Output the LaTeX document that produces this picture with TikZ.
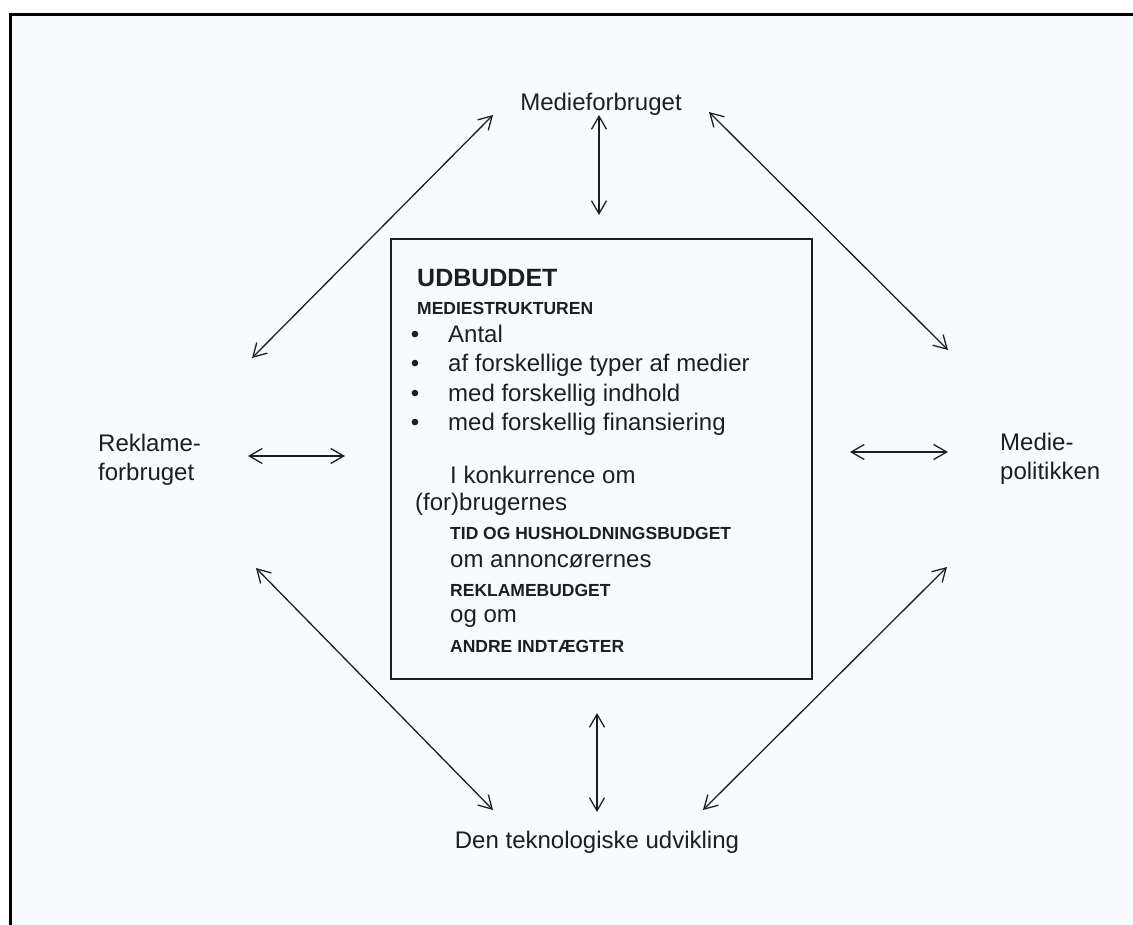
\documentclass[tikz,border=0pt]{standalone}
\usepackage{fontspec}
\setmainfont{Liberation Sans}
\usetikzlibrary{arrows.meta}
\definecolor{ink}{RGB}{30,30,30}
\definecolor{paper}{RGB}{247,251,253}
\begin{document}
\begin{tikzpicture}[x=1pt,y=-1pt,
  lbl/.style={font=\fontsize{24}{29}\selectfont, text=ink, inner sep=0pt},
  body/.style={font=\fontsize{24}{29}\selectfont, text=ink, inner sep=0pt, anchor=base west},
  caps/.style={font=\fontsize{17.5}{20}\selectfont\bfseries, text=ink, inner sep=0pt, anchor=base west},
  bul/.style={font=\fontsize{24}{29}\selectfont, text=ink, inner sep=0pt, anchor=base},
  link/.style={draw=ink, line width=1.3pt, {Straight Barb[length=13pt,width=15pt]}-{Straight Barb[length=13pt,width=15pt]}},
]
\useasboundingbox (0,0) rectangle (1133,925);
\fill[paper] (10,15) rectangle (1133,925);
\draw[line width=3pt, black] (1133,15) -- (10,15) -- (10,925);

% central box
\node (box) [draw=ink, line width=2pt, minimum width=421pt, minimum height=440pt, anchor=north west, inner sep=0pt] at (390,238) {};

\node (t1) [body, font=\fontsize{25}{29}\selectfont\bfseries] at (417,287) {UDBUDDET};
\node (t2) [caps] at (417,315) {MEDIESTRUKTUREN};
\node (b1) [bul] at (415,343) {\textbullet};
\node (t3) [body] at (448,343) {Antal};
\node (b2) [bul] at (415,372) {\textbullet};
\node (t4) [body] at (448,372) {af forskellige typer af medier};
\node (b3) [bul] at (415,401) {\textbullet};
\node (t5) [body] at (448,401) {med forskellig indhold};
\node (b4) [bul] at (415,430) {\textbullet};
\node (t6) [body] at (448,430) {med forskellig finansiering};
\node (t7) [body] at (450,483) {I konkurrence om};
\node (t8) [body] at (415,510) {(for)brugernes};
\node (t9) [caps] at (450,539) {TID OG HUSHOLDNINGSBUDGET};
\node (t10) [body] at (450,567) {om annoncørernes};
\node (t11) [caps] at (450,596) {REKLAMEBUDGET};
\node (t12) [body] at (450,622) {og om};
\node (t13) [caps] at (450,652) {ANDRE INDTÆGTER};

% outer labels
\node (mf) [lbl, anchor=base] at (601,111) {Medieforbruget};
\node (rk1) [lbl, anchor=base west] at (98,451) {Reklame-};
\node (rk2) [lbl, anchor=base west] at (98,480) {forbruget};
\node (mp1) [lbl, anchor=base west] at (1000,450) {Medie-};
\node (mp2) [lbl, anchor=base west] at (1000,479) {politikken};
\node (tu) [lbl, anchor=base] at (597,848) {Den teknologiske udvikling};

% arrow end points
\coordinate (a1s) at (252,358); \coordinate (a1e) at (493,115);
\coordinate (a2s) at (599,115); \coordinate (a2e) at (599,215);
\coordinate (a3s) at (709,112); \coordinate (a3e) at (948,350);
\coordinate (a4s) at (248,456); \coordinate (a4e) at (345,456);
\coordinate (a5s) at (850,452); \coordinate (a5e) at (948,452);
\coordinate (a6s) at (256,568); \coordinate (a6e) at (493,810);
\coordinate (a7s) at (597,713); \coordinate (a7e) at (597,812);
\coordinate (a8s) at (947,567); \coordinate (a8e) at (703,810);

\draw[link] (a1s) -- (a1e);
\draw[link] (a2s) -- (a2e);
\draw[link] (a3s) -- (a3e);
\draw[link] (a4s) -- (a4e);
\draw[link] (a5s) -- (a5e);
\draw[link] (a6s) -- (a6e);
\draw[link] (a7s) -- (a7e);
\draw[link] (a8s) -- (a8e);
\end{tikzpicture}
\end{document}
